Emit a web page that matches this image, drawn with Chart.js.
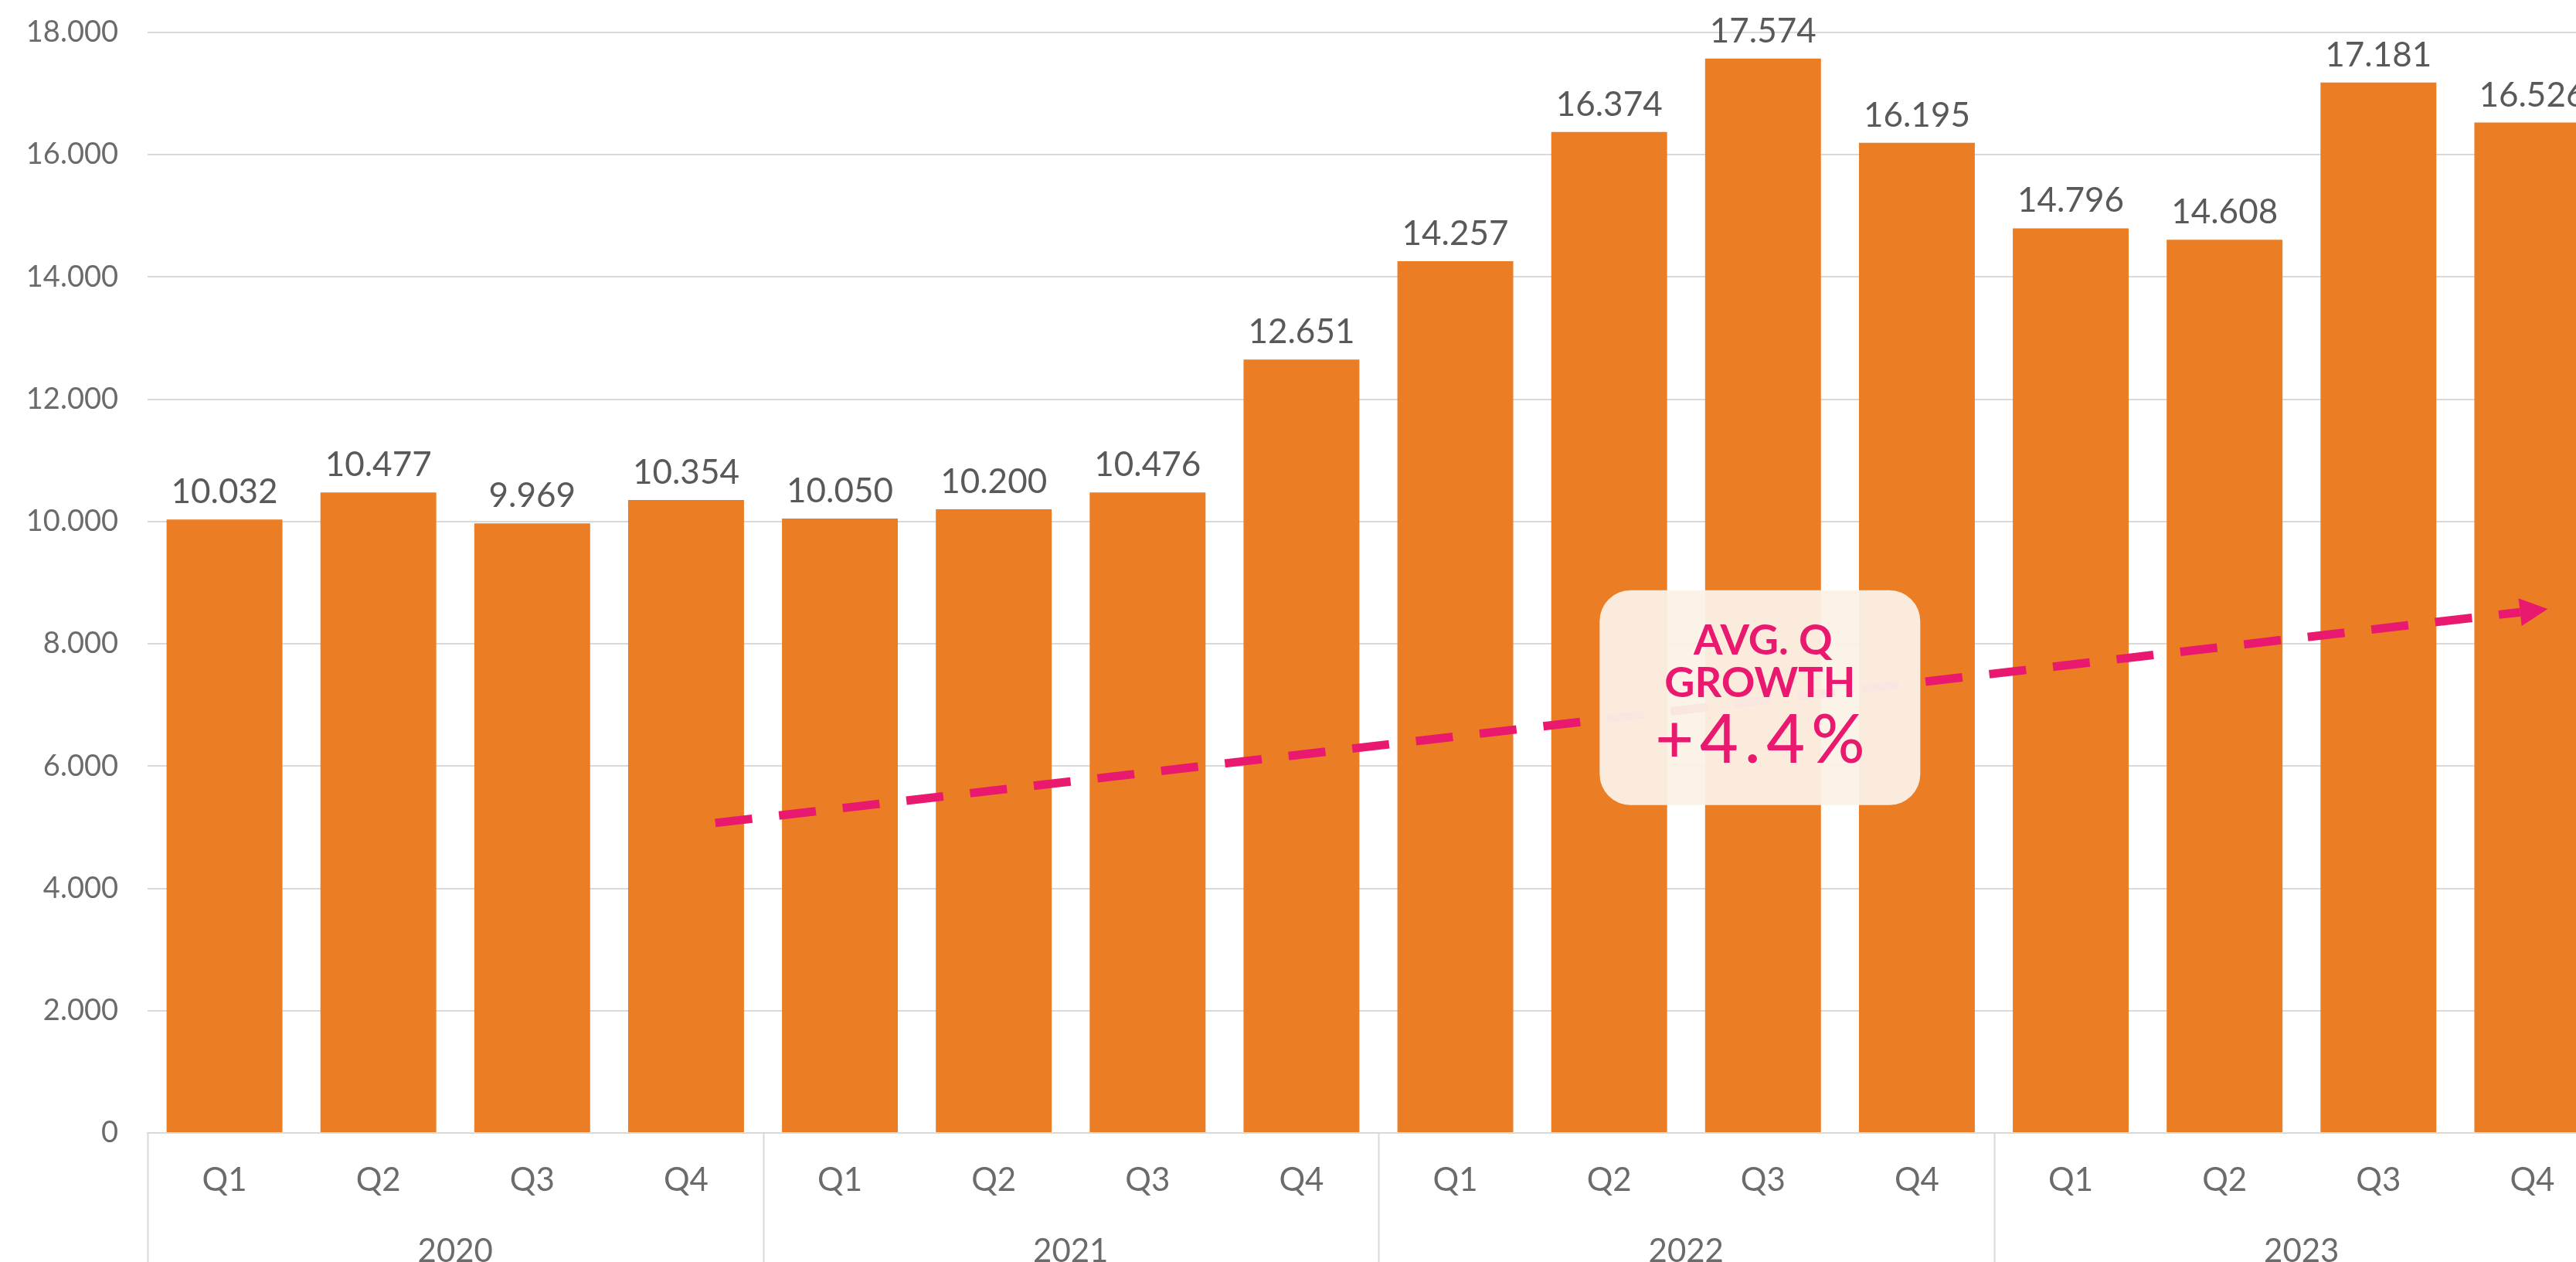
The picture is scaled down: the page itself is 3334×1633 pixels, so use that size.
<!DOCTYPE html>
<html>
<head>
<meta charset="utf-8">
<script src="https://cdn.jsdelivr.net/npm/chart.js@4.4.1/dist/chart.umd.min.js"></script>
<style>
  html, body { margin: 0; padding: 0; background: #fff; overflow: hidden; }
  #wrap { width: 3380px; height: 1633px; position: relative; }
</style>
</head>
<body>
<div id="wrap"><canvas id="myChart"></canvas></div>
<script>
// data
var quarters = ['Q1', 'Q2', 'Q3', 'Q4', 'Q1', 'Q2', 'Q3', 'Q4',
                'Q1', 'Q2', 'Q3', 'Q4', 'Q1', 'Q2', 'Q3', 'Q4'];
var years = ['2020', '2021', '2022', '2023'];
var values = [10032, 10477, 9969, 10354, 10050, 10200, 10476, 12651,
              14257, 16374, 17574, 16195, 14796, 14608, 17181, 16526];
var yMax = 18000;
var yStep = 2000;

// trend arrow: [category index, value] at start and tip
var trendX = [3.19, 15.1];
var trendY = [5070, 8570];
var noteLines = ['AVG. Q', 'GROWTH', '+4.4%'];

var grey = '#6b6b6b';
var pink = '#E8196F';

function dots(v) {
  return String(v).replace(/\B(?=(\d{3})+(?!\d))/g, '.');
}

var extras = {
  id: 'extras',
  afterDatasetsDraw: function (chart) {
    var ctx = chart.ctx;
    var xs = chart.scales.x;
    var ys = chart.scales.y;
    var area = chart.chartArea;

    // value labels
    ctx.save();
    ctx.font = '44px Lato';
    ctx.fillStyle = '#595959';
    ctx.textAlign = 'center';
    ctx.textBaseline = 'alphabetic';
    chart.getDatasetMeta(0).data.forEach(function (bar, i) {
      ctx.fillText(dots(values[i]), bar.x, bar.y - 21);
    });
    ctx.restore();

    // year group separators below the axis
    ctx.save();
    ctx.strokeStyle = '#d9d9d9';
    ctx.lineWidth = 2;
    for (var i = 0; i <= quarters.length; i += 4) {
      var px = Math.round(xs.getPixelForValue(i - 0.5)) + 0.5;
      ctx.beginPath();
      ctx.moveTo(px, area.bottom);
      ctx.lineTo(px, chart.height);
      ctx.stroke();
    }
    ctx.restore();

    // dashed trend arrow
    var x1 = xs.getPixelForValue(trendX[0]), y1 = ys.getPixelForValue(trendY[0]);
    var x2 = xs.getPixelForValue(trendX[1]), y2 = ys.getPixelForValue(trendY[1]);
    var ang = Math.atan2(y2 - y1, x2 - x1);
    var head = 36, half = 18;
    var bx = x2 - head * Math.cos(ang), by = y2 - head * Math.sin(ang);
    ctx.save();
    ctx.strokeStyle = pink;
    ctx.fillStyle = pink;
    ctx.lineWidth = 11;
    ctx.setLineDash([48, 35]);
    ctx.beginPath();
    ctx.moveTo(x1, y1);
    ctx.lineTo(bx, by);
    ctx.stroke();
    ctx.setLineDash([]);
    ctx.beginPath();
    ctx.moveTo(x2, y2);
    ctx.lineTo(bx + half * Math.sin(ang), by - half * Math.cos(ang));
    ctx.lineTo(bx - half * Math.sin(ang), by + half * Math.cos(ang));
    ctx.closePath();
    ctx.fill();
    ctx.restore();

    // growth note
    var cx = xs.getPixelForValue(9.98), cy = ys.getPixelForValue(7120);
    var w = 415, h = 278;
    ctx.save();
    ctx.fillStyle = 'rgba(251, 241, 231, 0.95)';
    ctx.beginPath();
    ctx.roundRect(cx - w / 2, cy - h / 2, w, h, 40);
    ctx.fill();
    ctx.fillStyle = pink;
    ctx.textAlign = 'center';
    ctx.textBaseline = 'alphabetic';
    ctx.font = 'bold 54px Lato';
    ctx.fillText(noteLines[0], cx + 4, cy - 56);
    ctx.fillText(noteLines[1], cx, cy - 1);
    ctx.font = '500 86px Lato';
    ctx.letterSpacing = '8px';
    ctx.fillText(noteLines[2], cx + 4, cy + 84);
    ctx.restore();
  }
};

var ctx = document.getElementById('myChart');
var myChart = new Chart(ctx, {
  type: 'bar',
  data: {
    labels: quarters,
    datasets: [{
      data: values,
      backgroundColor: '#EB7D24',
      barPercentage: 0.753,
      categoryPercentage: 1.0
    }]
  },
  plugins: [extras],
  options: {
    responsive: true,
    maintainAspectRatio: false,
    animation: false,
    layout: { padding: { top: 42, right: 3, left: 0, bottom: 0 } },
    plugins: {
      legend: { display: false },
      tooltip: { enabled: false }
    },
    scales: {
      x: {
        weight: 0,
        grid: { display: true, drawOnChartArea: false, drawTicks: false },
        border: { display: true, color: '#d9d9d9', width: 2 },
        ticks: {
          padding: 36,
          color: grey,
          font: { family: 'Lato', size: 42 }
        },
        afterFit: function (scale) { scale.height = 100; }
      },
      x2: {
        type: 'category',
        labels: years,
        position: 'bottom',
        weight: 1,
        offset: true,
        grid: { display: false },
        border: { display: false },
        ticks: {
          padding: 20,
          color: grey,
          font: { family: 'Lato', size: 42 }
        },
        afterFit: function (scale) { scale.height = 67; }
      },
      y: {
        min: 0,
        max: yMax,
        grid: { color: '#d9d9d9', lineWidth: 2, drawTicks: false },
        border: { display: false },
        ticks: {
          stepSize: yStep,
          padding: 38,
          color: grey,
          font: { family: 'Lato', size: 38 },
          callback: function (v) { return dots(v); }
        },
        afterFit: function (scale) {
          scale.width = 191;
          scale.paddingTop = 0;
          scale.paddingBottom = 0;
        }
      }
    }
  }
});
</script>
</body>
</html>
